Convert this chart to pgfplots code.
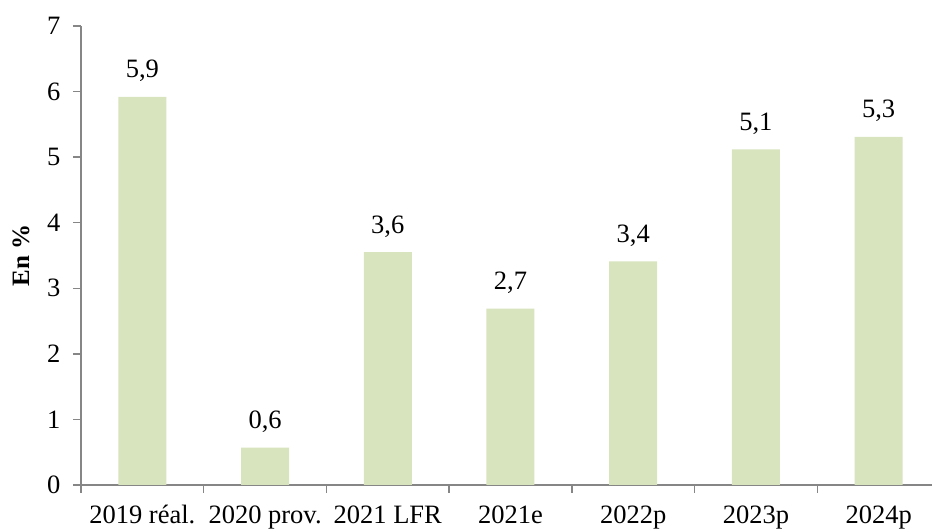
\documentclass[border=0pt]{standalone}
\usepackage{pgfplots}
\pgfplotsset{compat=1.18}
\usetikzlibrary{calc}
\usepackage{fontspec}
\setmainfont{Liberation Serif}
\definecolor{barfill}{RGB}{215,228,189}
\definecolor{axisgray}{RGB}{134,134,134}
\newcommand{\lblfont}{\fontsize{26.5}{30}\selectfont}

\begin{document}
\begin{tikzpicture}
  \begin{axis}[
      scale only axis,
      width=851pt, height=459pt,
      xmin=-0.5, xmax=6.435,
      ymin=0, ymax=7,
      axis lines=left,
      axis line style={axisgray, line width=2pt, -},
      xtick={0,...,6},
      xticklabels={2019 réal., 2020 prov., 2021 LFR, 2021e, 2022p, 2023p, 2024p},
      major x tick style={draw=none},
      minor xtick={-0.5,0.5,...,6.5},
      minor x tick style={axisgray, line width=1.5pt},
      minor tick length=8pt,
      ytick={0,...,7},
      major y tick style={axisgray, line width=1.5pt},
      major tick length=8pt,
      tick align=outside,
      ticklabel style={font=\lblfont},
      /pgf/number format/assume math mode=true,
      xticklabel style={yshift=-9pt},
      yticklabel style={xshift=-9pt},
      ylabel={\textbf{En \%}},
      ylabel style={font=\fontsize{25}{28}\selectfont, yshift=11pt},
      ybar, bar width=48pt,
      nodes near coords,
      point meta=explicit symbolic,
      every node near coord/.append style={font=\lblfont, text depth=0pt, inner sep=0pt, yshift=19pt},
      clip=false,
    ]
    \coordinate (O) at (axis cs:-0.5,0);
    \addplot[fill=barfill, draw=none] table[meta=label] {
      x y label
      0 5.92 5,9
      1 0.57 0,6
      2 3.55 3,6
      3 2.69 2,7
      4 3.41 3,4
      5 5.12 5,1
      6 5.31 5,3
    };
  \end{axis}
  \pgfresetboundingbox
  \path[use as bounding box] ($(O)+(-81pt,-44pt)$) rectangle ++(932pt,529pt);
\end{tikzpicture}
\end{document}
